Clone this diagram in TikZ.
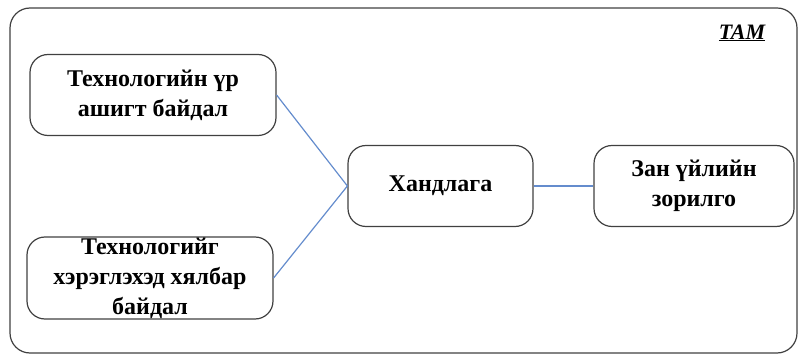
\documentclass[tikz,border=0pt]{standalone}
\usepackage{fontspec}
\setmainfont{Liberation Serif}
\definecolor{linkblue}{RGB}{100,140,205}
\begin{document}
\begin{tikzpicture}[x=1pt,y=-1pt,
  box/.style={draw=black!75,line width=1.2pt,rounded corners=18pt,inner sep=0pt,align=center,
    font=\fontsize{24}{30}\selectfont\bfseries},
  link/.style={draw=linkblue,line width=1.2pt}]
\useasboundingbox (0,0) rectangle (800,355);
\draw[black!75,line width=1.2pt,rounded corners=20pt] (10,8) rectangle (797,353);
\node[font=\fontsize{22}{26}\selectfont\bfseries\itshape] (tam) at (742,33) {\underline{ТАМ}};
\node[box,minimum width=246pt,minimum height=81pt] (b1) at (153,95) {Технологийн үр\\ашигт байдал};
\node[box,minimum width=246pt,minimum height=82pt] (b2) at (150,278) {Технологийг\\хэрэглэхэд хялбар\\байдал};
\node[box,minimum width=185pt,minimum height=81pt] (c) at (440.5,186) {Хандлага};
\node[box,minimum width=200pt,minimum height=81pt] (r) at (694,186) {Зан үйлийн\\зорилго};
\draw[link] (b1.east) -- (c.west);
\draw[link] (b2.east) -- (c.west);
\draw[link] (c.east) -- (r.west);
\end{tikzpicture}
\end{document}
